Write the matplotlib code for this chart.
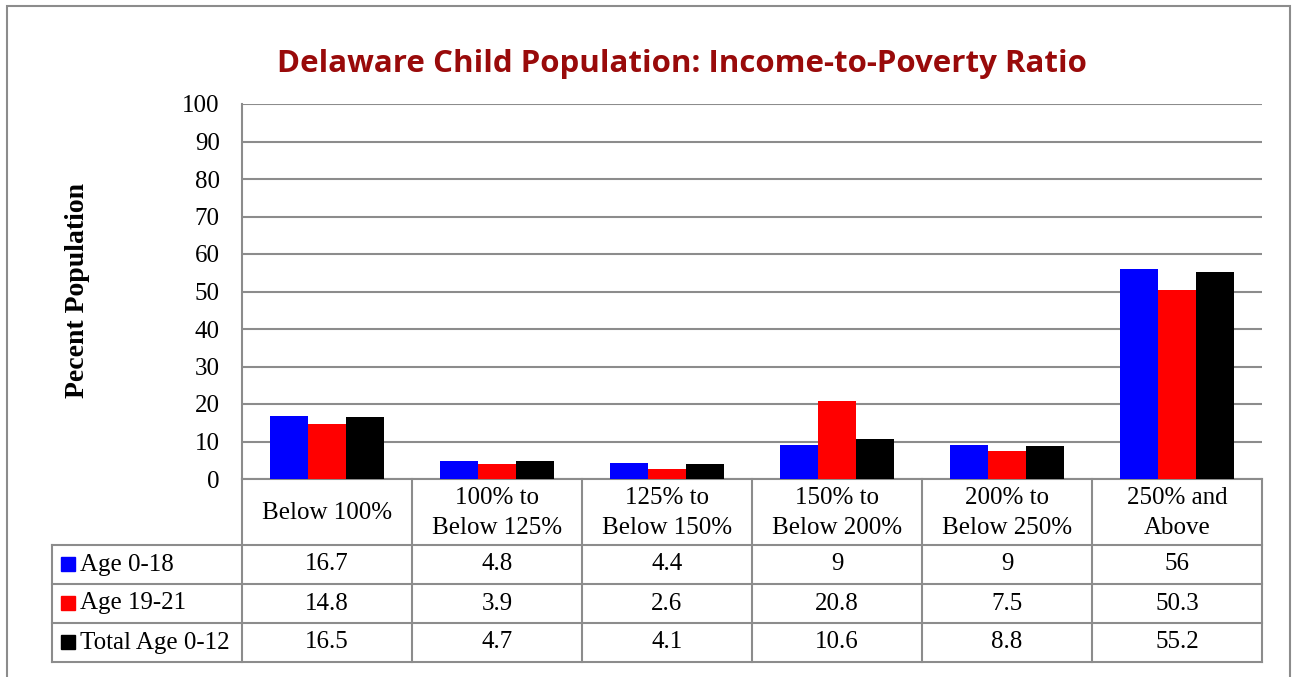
import numpy as np
import matplotlib.pyplot as plt
from matplotlib.lines import Line2D
from matplotlib.patches import Rectangle

categories = ["Below 100%", "100% to\nBelow 125%", "125% to\nBelow 150%",
              "150% to\nBelow 200%", "200% to\nBelow 250%", "250% and\nAbove"]
series_names = ["Age 0-18", "Age 19-21", "Total Age 0-12"]
age_0_18 = [16.7, 4.8, 4.4, 9, 9, 56]
age_19_21 = [14.8, 3.9, 2.6, 20.8, 7.5, 50.3]
total_0_12 = [16.5, 4.7, 4.1, 10.6, 8.8, 55.2]
colors = ["#0000FF", "#FF0000", "#000000"]

W, H = 1296, 677
fig = plt.figure(figsize=(W / 100, H / 100), dpi=100)
serif = ["Liberation Serif", "DejaVu Serif"]
grey = "#8c8c8c"
fs = 18


def fx(x):
    return x / W


def fy(y):
    return 1 - y / H


# outer frame
fig.add_artist(Rectangle((fx(7), fy(690)), fx(1290) - fx(7), fy(6) - fy(690),
                         transform=fig.transFigure, fill=False, ec=grey, lw=1.5))

# plot area
left, right, top, bottom = 242, 1262, 104, 479
ax = fig.add_axes([fx(left), fy(bottom), fx(right - left), fy(top) - fy(bottom)])
x = np.arange(len(categories))
bw = 1 / 4.5
for i, vals in enumerate([age_0_18, age_19_21, total_0_12]):
    ax.bar(x + (i - 1) * bw, vals, bw, color=colors[i], zorder=3)
ax.set_xlim(-0.5, len(categories) - 0.5)
ax.set_ylim(0, 100)
ax.set_yticks(range(0, 101, 10))
ax.set_xticks([])
ax.grid(axis="y", color=grey, lw=1.5, zorder=0)
ax.tick_params(axis="y", length=0, pad=16, labelsize=fs)
for lab in ax.get_yticklabels():
    lab.set_family(serif)
for s in ["top", "right"]:
    ax.spines[s].set_visible(False)
ax.spines["left"].set_color(grey)
ax.spines["left"].set_linewidth(1.5)
ax.spines["bottom"].set_color(grey)
ax.spines["bottom"].set_linewidth(1.5)

fig.text(fx(78), fy(290), "Pecent Population", rotation=90, ha="center", va="center",
         fontsize=20, fontweight="bold", family=serif)
fig.text(fx(682), fy(64), "Delaware Child Population: Income-to-Poverty Ratio",
         ha="center", va="center", fontsize=22.5, fontweight="bold", color="#990a0a",
         family=["Open Sans", "DejaVu Sans"])

# data table below the axis
colw = (right - left) / len(categories)
tleft = 52
rows = [479, 545, 584, 623, 662]


def hline(y, x0, x1):
    fig.add_artist(Line2D([fx(x0), fx(x1)], [fy(y), fy(y)], transform=fig.transFigure,
                          color=grey, lw=1.5))


def vline(xp, y0, y1):
    fig.add_artist(Line2D([fx(xp), fx(xp)], [fy(y0), fy(y1)], transform=fig.transFigure,
                          color=grey, lw=1.5))


for y in rows[1:]:
    hline(y, tleft, right)
for j in range(len(categories) + 1):
    vline(left + j * colw, rows[0], rows[-1])
vline(tleft, rows[1], rows[-1])

for j, c in enumerate(categories):
    fig.text(fx(left + (j + 0.5) * colw), fy(513), c,
             ha="center", va="center", fontsize=fs, family=serif, linespacing=1.45)

for i, vals in enumerate([age_0_18, age_19_21, total_0_12]):
    yc = (rows[i + 1] + rows[i + 2]) / 2
    fig.add_artist(Rectangle((fx(61), fy(yc + 6)), fx(14), fy(0) - fy(14),
                             transform=fig.transFigure, color=colors[i]))
    fig.text(fx(80), fy(yc), series_names[i], ha="left", va="center",
             fontsize=fs, family=serif)
    for j, v in enumerate(vals):
        fig.text(fx(left + (j + 0.5) * colw), fy(yc), f"{v:g}", ha="center",
                 va="center", fontsize=fs, family=serif)

fig.savefig("out.png", dpi=100)
